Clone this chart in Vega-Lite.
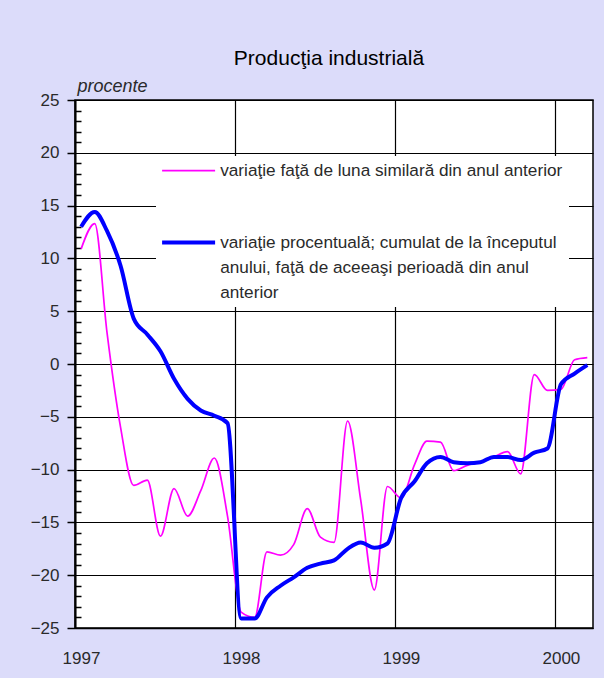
{
  "$schema": "https://vega.github.io/schema/vega-lite/v6.json",
  "width": 518,
  "height": 528,
  "autosize": {"type": "none"},
  "padding": {"left": 75, "top": 100, "right": 11, "bottom": 50},
  "background": "#DCDCFA",
  "title": {"text": "Producţia industrială", "fontSize": 21, "font": "Liberation Sans", "fontWeight": "normal", "color": "#000000", "anchor": "middle", "offset": 8, "dx": -5},
  "data": {"values": [
    {"luna": "1997-01-15", "lunar": 10.9, "cumulat": 13.0},
    {"luna": "1997-02-15", "lunar": 13.3, "cumulat": 14.4},
    {"luna": "1997-03-15", "lunar": 3.0, "cumulat": 12.6},
    {"luna": "1997-04-15", "lunar": -6.0, "cumulat": 9.3},
    {"luna": "1997-05-15", "lunar": -11.5, "cumulat": 4.3},
    {"luna": "1997-06-15", "lunar": -11.0, "cumulat": 2.8},
    {"luna": "1997-07-15", "lunar": -16.3, "cumulat": 1.2},
    {"luna": "1997-08-15", "lunar": -11.8, "cumulat": -1.4},
    {"luna": "1997-09-15", "lunar": -14.4, "cumulat": -3.3},
    {"luna": "1997-10-15", "lunar": -12.0, "cumulat": -4.4},
    {"luna": "1997-11-15", "lunar": -8.9, "cumulat": -4.9},
    {"luna": "1997-12-15", "lunar": -14.4, "cumulat": -5.6},
    {"luna": "1998-01-15", "lunar": -23.5, "cumulat": -24.1},
    {"luna": "1998-02-15", "lunar": -24.0, "cumulat": -24.1},
    {"luna": "1998-03-15", "lunar": -17.8, "cumulat": -22.1},
    {"luna": "1998-04-15", "lunar": -18.1, "cumulat": -21.0},
    {"luna": "1998-05-15", "lunar": -17.1, "cumulat": -20.2},
    {"luna": "1998-06-15", "lunar": -13.7, "cumulat": -19.3},
    {"luna": "1998-07-15", "lunar": -16.4, "cumulat": -18.9},
    {"luna": "1998-08-15", "lunar": -16.9, "cumulat": -18.6},
    {"luna": "1998-09-15", "lunar": -5.4, "cumulat": -17.5},
    {"luna": "1998-10-15", "lunar": -12.9, "cumulat": -16.9},
    {"luna": "1998-11-15", "lunar": -21.4, "cumulat": -17.4},
    {"luna": "1998-12-15", "lunar": -11.6, "cumulat": -17.0},
    {"luna": "1999-01-15", "lunar": -12.7, "cumulat": -12.7},
    {"luna": "1999-02-15", "lunar": -9.5, "cumulat": -11.1},
    {"luna": "1999-03-15", "lunar": -7.3, "cumulat": -9.4},
    {"luna": "1999-04-15", "lunar": -7.4, "cumulat": -8.8},
    {"luna": "1999-05-15", "lunar": -10.1, "cumulat": -9.3},
    {"luna": "1999-06-15", "lunar": -9.6, "cumulat": -9.4},
    {"luna": "1999-07-15", "lunar": -9.3, "cumulat": -9.3},
    {"luna": "1999-08-15", "lunar": -8.8, "cumulat": -8.8},
    {"luna": "1999-09-15", "lunar": -8.3, "cumulat": -8.8},
    {"luna": "1999-10-15", "lunar": -10.4, "cumulat": -9.1},
    {"luna": "1999-11-15", "lunar": -1.0, "cumulat": -8.4},
    {"luna": "1999-12-15", "lunar": -2.5, "cumulat": -8.0},
    {"luna": "2000-01-15", "lunar": -2.4, "cumulat": -1.9},
    {"luna": "2000-02-15", "lunar": 0.4, "cumulat": -0.9},
    {"luna": "2000-03-15", "lunar": 0.6, "cumulat": -0.1}
  ]},
  "transform": [{"fold": ["lunar", "cumulat"], "as": ["serie", "valoare"]}],
  "mark": {"type": "line", "interpolate": "monotone"},
  "encoding": {
    "x": {
      "field": "luna", "type": "temporal",
      "scale": {"type": "utc", "domain": [{"year": 1997, "month": 1, "date": 1, "utc": true}, {"year": 2000, "month": 3, "date": 28, "utc": true}]},
      "axis": {
        "values": [{"year": 1997, "month": 1, "date": 1, "utc": true}, {"year": 1998, "month": 1, "date": 1, "utc": true}, {"year": 1999, "month": 1, "date": 1, "utc": true}, {"year": 2000, "month": 1, "date": 1, "utc": true}],
        "title": null,
        "labelExpr": "utcFormat(datum.value, '%Y')",
        "labelFont": "Liberation Sans", "labelFontSize": 17, "labelColor": "#2a2a2a",
        "labelOffset": 6, "labelPadding": 22, "labelFlush": false, "labelOverlap": false,
        "ticks": false, "tickSize": 0,
        "grid": true, "gridColor": "#000000", "gridWidth": 1.2,
        "domainColor": "#000000", "domainWidth": 1.5
      }
    },
    "y": {
      "field": "valoare", "type": "quantitative",
      "scale": {"domain": [-25, 25], "nice": false, "zero": false},
      "axis": {
        "values": [-25,-24,-23,-22,-21,-20,-19,-18,-17,-16,-15,-14,-13,-12,-11,-10,-9,-8,-7,-6,-5,-4,-3,-2,-1,0,1,2,3,4,5,6,7,8,9,10,11,12,13,14,15,16,17,18,19,20,21,22,23,24,25],
        "title": "procente", "titleAngle": 0, "titleAlign": "left", "titleBaseline": "alphabetic",
        "titleX": 2, "titleY": -9, "titleFont": "Liberation Sans", "titleFontSize": 18,
        "titleFontStyle": "italic", "titleFontWeight": "normal", "titleColor": "#2a2a2a",
        "labelExpr": "datum.value % 5 === 0 ? format(datum.value, 'd') : ''",
        "labelFont": "Liberation Sans", "labelFontSize": 17, "labelColor": "#2a2a2a",
        "labelPadding": 8, "labelOverlap": false,
        "tickSize": {"condition": {"test": "datum.value % 5 === 0", "value": 8}, "value": -6},
        "tickColor": "#000000", "tickWidth": 1.5,
        "grid": true, "gridColor": "#000000", "gridWidth": 1.2,
        "gridOpacity": {"condition": {"test": "datum.value % 5 === 0", "value": 1}, "value": 0},
        "domainColor": "#000000", "domainWidth": 2
      }
    },
    "color": {
      "field": "serie", "type": "nominal",
      "scale": {"domain": ["lunar", "cumulat"], "range": ["#FF00FF", "#0000FF"]},
      "legend": {
        "title": null, "orient": "none", "legendX": 81, "legendY": 56,
        "fillColor": "#FFFFFF", "padding": 6,
        "symbolType": "M-4.25,0H22.25", "symbolSize": 16, "symbolStrokeWidth": 2,
        "labelFont": "Arial", "labelFontSize": 17.2, "labelColor": "#2a2a2a",
        "labelOffset": 41, "labelLimit": 500, "rowPadding": 54,
        "labelExpr": "datum.value === 'lunar' ? 'variaţie faţă de luna similară din anul anterior' : ['variaţie procentuală; cumulat de la începutul', 'anului, faţă de aceeaşi perioadă din anul', 'anterior']",
        "encode": {
          "symbols": {"update": {"strokeWidth": {"signal": "datum.value === 'cumulat' ? 4 : 1.7"}}},
          "labels": {"update": {"lineHeight": {"value": 25}}}
        }
      }
    },
    "strokeWidth": {"condition": {"test": "datum.serie === 'cumulat'", "value": 4}, "value": 1.7}
  },
  "config": {
    "font": "Liberation Sans",
    "view": {"stroke": "#000000", "strokeWidth": 1.5, "fill": "#FFFFFF"}
  }
}
